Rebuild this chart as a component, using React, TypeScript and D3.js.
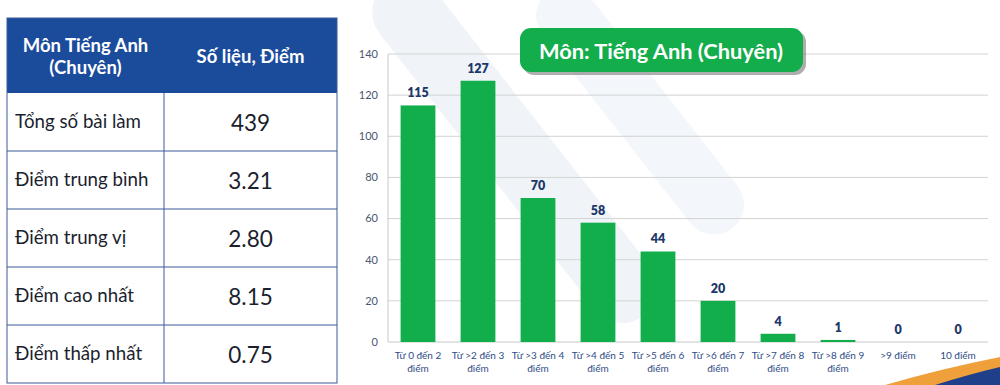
import React from 'react';
import * as d3 from 'd3';

// Summary table
const headerLeft = ['Môn Tiếng Anh', '(Chuyên)'];
const headerRight = 'Số liệu, Điểm';
const statLabels = ['Tổng số bài làm', 'Điểm trung bình', 'Điểm trung vị', 'Điểm cao nhất', 'Điểm thấp nhất'];
const statValues = ['439', '3.21', '2.80', '8.15', '0.75'];

// Histogram
const chartTitle = 'Môn: Tiếng Anh (Chuyên)';
const binLabels = [
  ['Từ 0 đến 2', 'điểm'],
  ['Từ >2 đến 3', 'điểm'],
  ['Từ >3 đến 4', 'điểm'],
  ['Từ >4 đến 5', 'điểm'],
  ['Từ >5 đến 6', 'điểm'],
  ['Từ >6 đến 7', 'điểm'],
  ['Từ >7 đến 8', 'điểm'],
  ['Từ >8 đến 9', 'điểm'],
  ['>9 điểm'],
  ['10 điểm'],
];
const counts = [115, 127, 70, 58, 44, 20, 4, 1, 0, 0];
const yTicks = [0, 20, 40, 60, 80, 100, 120, 140];

const W = 1000;
const H = 385;
const font = 'Lato, "Open Sans", sans-serif';

const App = () => {
  const plot = { left: 388, right: 988, top: 54, bottom: 342 };

  const x = d3.scaleBand<number>()
    .domain(d3.range(counts.length))
    .range([plot.left, plot.right])
    .paddingInner(0.42)
    .paddingOuter(0.21);

  const y = d3.scaleLinear()
    .domain([0, 140])
    .range([plot.bottom, plot.top]);

  // table geometry
  const tbl = { left: 7, right: 337, top: 18, headerBottom: 93, bottom: 383, split: 164 };
  const rowH = (tbl.bottom - tbl.headerBottom) / statLabels.length;
  const colLeftMid = (tbl.left + tbl.split) / 2;
  const colRightMid = (tbl.split + tbl.right) / 2;
  const border = '#3b5a96';

  return (
    <div style={{ position: 'fixed', left: 0, top: 0 }}>
      <svg width={W} height={H} style={{ display: 'block', background: '#fff' }}>
        {/* faint background decoration */}
        <g>
          <rect x={480} y={-60} width={70} height={420} rx={35} fill="#f0f4f9"
            transform="rotate(-38 515 150)" />
          <rect x={610} y={-40} width={60} height={300} rx={30} fill="#f3f6fa"
            transform="rotate(-38 640 110)" />
        </g>

        {/* bottom-right swoosh */}
        <path d="M 885 385 Q 940 369 1000 357 L 1000 385 Z" fill="#f0a03a" />
        <path d="M 935 385 Q 970 374 1000 367 L 1000 385 Z" fill="#1e3f8a" />

        {/* ---------- table ---------- */}
        <rect x={tbl.left} y={tbl.top} width={tbl.right - tbl.left} height={tbl.headerBottom - tbl.top}
          fill="#1b4c9c" />
        <rect x={tbl.left} y={tbl.headerBottom} width={tbl.right - tbl.left}
          height={tbl.bottom - tbl.headerBottom} fill="#fff" />
        <text x={colLeftMid} y={52} textAnchor="middle" fontFamily={font} fontWeight={700}
          fontSize={18.5} fill="#fff">{headerLeft[0]}</text>
        <text x={colLeftMid} y={74} textAnchor="middle" fontFamily={font} fontWeight={700}
          fontSize={18.5} fill="#fff">{headerLeft[1]}</text>
        <text x={colRightMid} y={63} textAnchor="middle" fontFamily={font} fontWeight={700}
          fontSize={18.5} fill="#fff">{headerRight}</text>

        {statLabels.map((label, i) => {
          const top = tbl.headerBottom + i * rowH;
          return (
            <g key={label}>
              <text x={15} y={top + 35} fontFamily={font} fontSize={18.7} fill="#1b1f2e">{label}</text>
              <text x={colRightMid} y={top + 38} textAnchor="middle" fontFamily={font}
                fontSize={22.5} fill="#1b1f2e">{statValues[i]}</text>
              {i > 0 && (
                <line x1={tbl.left} x2={tbl.right} y1={top} y2={top} stroke={border} strokeWidth={1} />
              )}
            </g>
          );
        })}
        <line x1={tbl.split} x2={tbl.split} y1={tbl.headerBottom} y2={tbl.bottom} stroke={border} />
        <rect x={tbl.left} y={tbl.top} width={tbl.right - tbl.left} height={tbl.bottom - tbl.top}
          fill="none" stroke={border} strokeWidth={1} />

        {/* ---------- chart ---------- */}
        {yTicks.map(t => (
          <g key={t}>
            {t > 0 && (
              <line x1={plot.left} x2={plot.right} y1={y(t)} y2={y(t)} stroke="#d3d3d3" strokeWidth={1} />
            )}
            <text x={378} y={y(t)} dy="0.35em" textAnchor="end" fontFamily={font} fontSize={11}
              fill="#4a5671">{t}</text>
          </g>
        ))}
        <line x1={plot.left} x2={plot.left} y1={plot.top} y2={plot.bottom} stroke="#c8c8c8" />
        <line x1={plot.left} x2={plot.right} y1={plot.bottom} y2={plot.bottom} stroke="#c8c8c8" />

        {counts.map((v, i) => (
          <g key={i}>
            <rect x={x(i)} y={y(v)} width={x.bandwidth()} height={plot.bottom - y(v)} fill="#12ae4b" />
            <text x={(x(i) as number) + x.bandwidth() / 2} y={y(v) - 8} textAnchor="middle"
              fontFamily={font} fontWeight={800} fontSize={12.5} fill="#1c3768">{v}</text>
            {binLabels[i].map((line, j) => (
              <text key={j} x={(x(i) as number) + x.bandwidth() / 2} y={359 + j * 13}
                textAnchor="middle" fontFamily={font} fontSize={10} fill="#2f4c86">{line}</text>
            ))}
          </g>
        ))}

        {/* title badge */}
        <rect x={523} y={31} width={283} height={44} rx={11} fill="#6b6b6b" opacity={0.55} />
        <rect x={520} y={28} width={283} height={44} rx={11} fill="#13ad4c" />
        <text x={661} y={59} textAnchor="middle" fontFamily={font} fontWeight={700} fontSize={21.8}
          fill="#fff">{chartTitle}</text>
      </svg>
    </div>
  );
};

export default App;
